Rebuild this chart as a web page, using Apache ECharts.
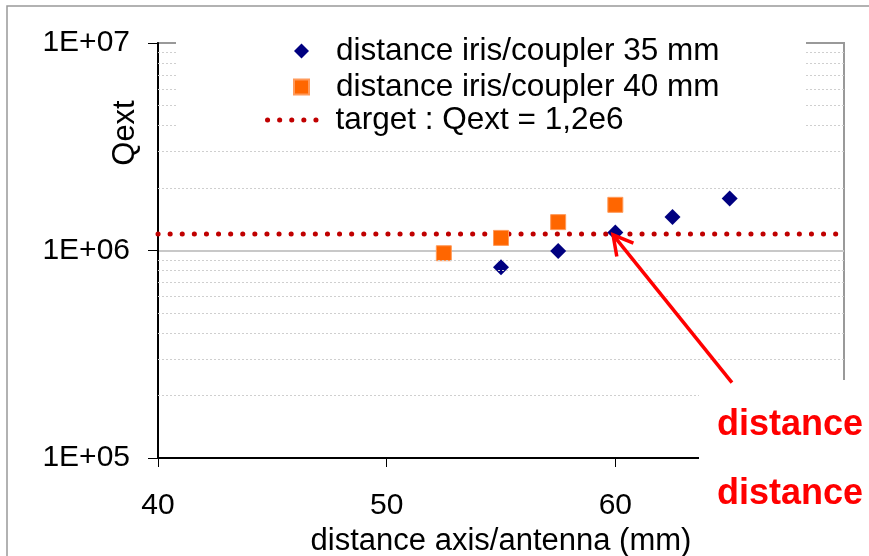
<!DOCTYPE html>
<html><head><meta charset="utf-8">
<script src="https://cdn.jsdelivr.net/npm/echarts@6/dist/echarts.min.js"></script>
<style>html,body{margin:0;padding:0;background:#fff;overflow:hidden}#c{width:869px;height:556px}</style>
</head><body><div id="c"></div>
<script>
// ---- data ----
const xTicks = [40, 50, 60, 70];
const yMin = 1e5, yMax = 1e7;
const x35 = [55, 57.5, 60, 62.5, 65];
const q35 = [8.3e5, 9.95e5, 1.22e6, 1.45e6, 1.78e6];
const x40 = [52.5, 55, 57.5, 60];
const q40 = [9.7e5, 1.15e6, 1.37e6, 1.66e6];
const targetX = [40, 70];
const targetQ = [1.2e6, 1.2e6];
const minorQ = [2e5, 3e5, 4e5, 5e5, 6e5, 7e5, 8e5, 9e5, 2e6, 3e6, 4e6, 5e6, 6e6, 7e6, 8e6, 9e6];
const arrowTail = [65.1, 2.31e5];
const arrowHead = [59.9, 1.19e6];
const name35 = 'distance iris/coupler 35 mm';
const name40 = 'distance iris/coupler 40 mm';
const nameT = 'target : Qext = 1,2e6';
const xName = 'distance axis/antenna (mm)';
const yName = 'Qext';
const annText = ['distance', 'distance'];

// layout boxes (pixels) of the opaque legend and annotation text frames
const legendBox = {x: 176, y: 40, width: 630, height: 100};
const textBox = {x: 699, y: 380, width: 180, height: 135};

const FONT = 'Liberation Sans, Arial, sans-serif';
const chart = echarts.init(document.getElementById('c'), null, {renderer: 'canvas'});

const zip = (a, b) => a.map((v, i) => [v, b[i]]);
const dotted = {color: '#c00000', width: 5, type: [0.1, 12], cap: 'round'};
const legendText = {fontSize: 31.5, color: '#000', fontFamily: FONT, lineHeight: 30};

chart.setOption({
  animation: false,
  backgroundColor: '#fff',
  grid: {left: 158, top: 43, right: 25, bottom: 98, outerBoundsMode: 'none', containLabel: false,
         show: true, borderColor: '#999', borderWidth: 2, backgroundColor: 'transparent'},
  legend: [
    {
      orient: 'vertical', left: 288, top: 30, itemWidth: 15, itemHeight: 15, itemGap: 4, z: 10,
      selectedMode: false, data: [name35, name40],
      textStyle: Object.assign({padding: [0, 0, 0, 22]}, legendText)
    },
    {
      orient: 'vertical', left: 260, top: 99, itemWidth: 60, itemHeight: 15, itemGap: 4, z: 10,
      selectedMode: false,
      data: [{name: nameT, itemStyle: {opacity: 0, color: 'transparent'}, lineStyle: dotted}],
      textStyle: Object.assign({padding: [0, 0, 0, 3]}, legendText)
    }
  ],
  xAxis: {
    type: 'value', min: xTicks[0], max: xTicks[xTicks.length - 1], interval: 10,
    name: xName, nameLocation: 'middle', nameGap: 66,
    nameTextStyle: {fontSize: 31, color: '#000', fontFamily: FONT},
    axisLine: {show: true, onZero: false, lineStyle: {color: '#000', width: 2}},
    axisTick: {show: true, inside: false, length: 9, lineStyle: {color: '#000', width: 1}},
    axisLabel: {fontSize: 30, color: '#000', fontFamily: FONT, margin: 33},
    splitLine: {show: false}
  },
  yAxis: {
    type: 'log', logBase: 10, min: yMin, max: yMax,
    axisLine: {show: true, lineStyle: {color: '#000', width: 2}},
    axisTick: {show: true, inside: false, length: 10, lineStyle: {color: '#000', width: 1}},
    axisLabel: {fontSize: 30, color: '#000', fontFamily: FONT, margin: 28,
      formatter: v => '1E+' + String(Math.round(Math.log10(v))).padStart(2, '0')},
    splitLine: {show: true, lineStyle: {color: ['#000', '#c8c8c8', '#999'], width: 2}},
    minorTick: {show: false}, minorSplitLine: {show: false}
  },
  series: [
    {
      id: 'target', name: nameT, type: 'line', data: zip(targetX, targetQ), symbol: 'none', z: 2,
      lineStyle: dotted,
      itemStyle: {color: '#c00000'}
    },
    {name: name35, type: 'scatter', data: zip(x35, q35), symbol: 'diamond', symbolSize: 16,
     itemStyle: {color: '#000080', opacity: 1}, z: 3},
    {name: name40, type: 'scatter', data: zip(x40, q40), symbol: 'rect', symbolSize: 15,
     itemStyle: {color: '#ff6600', borderColor: '#ff9a5a', borderWidth: 1, opacity: 1}, z: 3}
  ]
});

// minor grid lines (data space), interrupted where opaque boxes sit on top of the plot
const xmin = xTicks[0], xmax = xTicks[xTicks.length - 1];
const legL = chart.convertFromPixel({gridIndex: 0}, [legendBox.x, 0])[0];
const legR = chart.convertFromPixel({gridIndex: 0}, [legendBox.x + legendBox.width, 0])[0];
const txtL = chart.convertFromPixel({gridIndex: 0}, [textBox.x, 0])[0];
const segs = [];
minorQ.forEach(v => {
  const py = chart.convertToPixel({gridIndex: 0}, [xmin, v])[1];
  if (py >= legendBox.y && py <= legendBox.y + legendBox.height) {
    segs.push([{coord: [xmin, v]}, {coord: [legL, v]}]);
    segs.push([{coord: [legR, v]}, {coord: [xmax, v]}]);
  } else if (py >= textBox.y) {
    segs.push([{coord: [xmin, v]}, {coord: [txtL, v]}]);
  } else {
    segs.push([{coord: [xmin, v]}, {coord: [xmax, v]}]);
  }
});

// annotations positioned from data coordinates
const tail = chart.convertToPixel({gridIndex: 0}, arrowTail);
const head = chart.convertToPixel({gridIndex: 0}, arrowHead);
const ang = Math.atan2(tail[1] - head[1], tail[0] - head[0]);
const wl = 22, wa = 29 * Math.PI / 180;
const w1 = [head[0] + wl * Math.cos(ang - wa), head[1] + wl * Math.sin(ang - wa)];
const w2 = [head[0] + wl * Math.cos(ang + wa), head[1] + wl * Math.sin(ang + wa)];

chart.setOption({
  series: [{
    id: 'target',
    markLine: {
      silent: true, symbol: 'none', label: {show: false}, animation: false,
      lineStyle: {color: '#cfcfcf', type: [2, 2], width: 1},
      data: segs
    }
  }],
  graphic: [
    {type: 'rect', id: 'frame', z: 1, silent: true, shape: {x: 7, y: 6, width: 900, height: 600},
     style: {fill: null, stroke: '#999', lineWidth: 1.5}},
    {type: 'rect', id: 'legendCover', z: 3, silent: true, shape: legendBox, style: {fill: '#fff'}},
    {type: 'rect', id: 'textCover', z: 3, silent: true, shape: textBox, style: {fill: '#fff'}},
    {type: 'text', id: 'yname', z: 12, x: 125, y: 133, rotation: Math.PI / 2,
     style: {text: yName, fontSize: 31, fontFamily: FONT, fill: '#000', align: 'center', verticalAlign: 'middle'}},
    {type: 'polyline', id: 'arrowLine', z: 12, silent: true, shape: {points: [tail, head]},
     style: {stroke: '#ff0000', lineWidth: 3.5, fill: null}},
    {type: 'polyline', id: 'arrowHead', z: 12, silent: true, shape: {points: [w1, head, w2]},
     style: {stroke: '#ff0000', lineWidth: 3.5, fill: null, lineJoin: 'miter'}},
    {type: 'text', id: 't1', z: 12, x: 717, y: 425,
     style: {text: annText[0], fontSize: 36, fontWeight: 'bold', fontFamily: FONT, fill: '#ff0000', align: 'left', verticalAlign: 'middle'}},
    {type: 'text', id: 't2', z: 12, x: 717, y: 494,
     style: {text: annText[1], fontSize: 36, fontWeight: 'bold', fontFamily: FONT, fill: '#ff0000', align: 'left', verticalAlign: 'middle'}}
  ]
});
</script></body></html>
